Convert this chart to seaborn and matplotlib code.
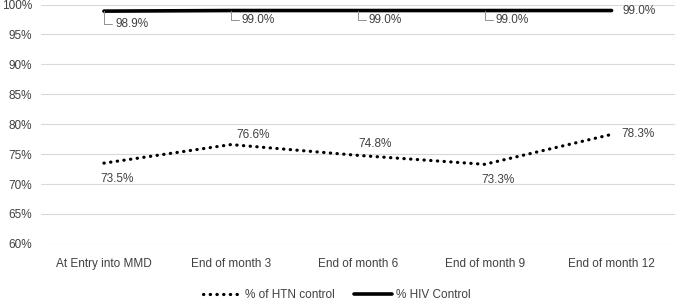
import numpy as np
import pandas as pd
import matplotlib.pyplot as plt
import seaborn as sns

sns.set_style("whitegrid")
plt.rcParams['font.family'] = ['Liberation Sans Narrow', 'Liberation Sans', 'DejaVu Sans']

stages = ['At Entry into MMD', 'End of month 3', 'End of month 6', 'End of month 9', 'End of month 12']
htn = [73.5, 76.6, 74.8, 73.3, 78.3]
hiv = [98.9, 99.0, 99.0, 99.0, 99.0]

df = pd.DataFrame({'stage': stages * 2,
                   'value': htn + hiv,
                   'series': ['% of HTN control'] * 5 + ['% HIV Control'] * 5})

fig = plt.figure(figsize=(6.75, 3.03), dpi=100)
ax = fig.add_axes([0.06, 0.195, 0.94, 0.79])

txt = '#404040'
sns.lineplot(data=df[df.series == '% of HTN control'], x='stage', y='value', sort=False,
             color='black', lw=2.3, ax=ax, label='% of HTN control',
             linestyle=(0, (0.1, 2.0)), dash_capstyle='round', solid_capstyle='round')
sns.lineplot(data=df[df.series == '% HIV Control'], x='stage', y='value', sort=False,
             color='black', lw=2.6, ax=ax, label='% HIV Control')

# HTN labels (offsets in points, label centre)
offs = [(9.4, -11.5, 'center'), (15.8, 7.2, 'center'), (12.2, 7.9, 'center'),
        (9.4, -11.2, 'center'), (7.2, 0, 'left')]
for i, (v, o) in enumerate(zip(htn, offs)):
    ax.annotate(f'{v:.1f}%', (i, v), xytext=(o[0], o[1]), textcoords='offset points',
                ha=o[2], va='center', fontsize=8.5, color=txt)

# HIV labels with leader lines
hiv_offs = [(8, -9.6), (8, -6.8), (8, -6.5), (8, -6.5)]
for i, v in enumerate(hiv):
    if i < 4:
        ax.annotate(f'{v:.1f}%', (i, v), xytext=hiv_offs[i], textcoords='offset points',
                    ha='left', va='center', fontsize=8.5, color=txt,
                    arrowprops=dict(arrowstyle='-', color='#909090', lw=0.7,
                                    shrinkA=2, shrinkB=0, patchA=None, relpos=(0, 0.5),
                                    connectionstyle='angle,angleA=0,angleB=90,rad=0'))
    else:
        ax.annotate(f'{v:.1f}%', (i, v), xytext=(8, 0), textcoords='offset points',
                    ha='left', va='center', fontsize=8.5, color=txt)

ax.set_xlim(-0.5, 4.5)
ax.set_ylim(60, 100)
ax.set_yticks(np.arange(60, 101, 5))
ax.set_yticklabels([f'{t}%' for t in range(60, 101, 5)])
ax.grid(axis='x', visible=False)
ax.grid(axis='y', color='#d9d9d9', lw=0.8)
for s in ax.spines.values():
    s.set_visible(False)
ax.tick_params(axis='both', labelsize=8.5, labelcolor=txt, length=0)
ax.tick_params(axis='x', pad=10)
ax.tick_params(axis='y', pad=6)
ax.set_xlabel('')
ax.set_ylabel('')
ax.legend(loc='center', bbox_to_anchor=(0.467, -0.213), ncol=2, frameon=False,
          fontsize=8.5, handlelength=3.2, handletextpad=0.3, columnspacing=1.7,
          labelcolor=txt, borderpad=0)

fig.savefig('out.png', dpi=100)
